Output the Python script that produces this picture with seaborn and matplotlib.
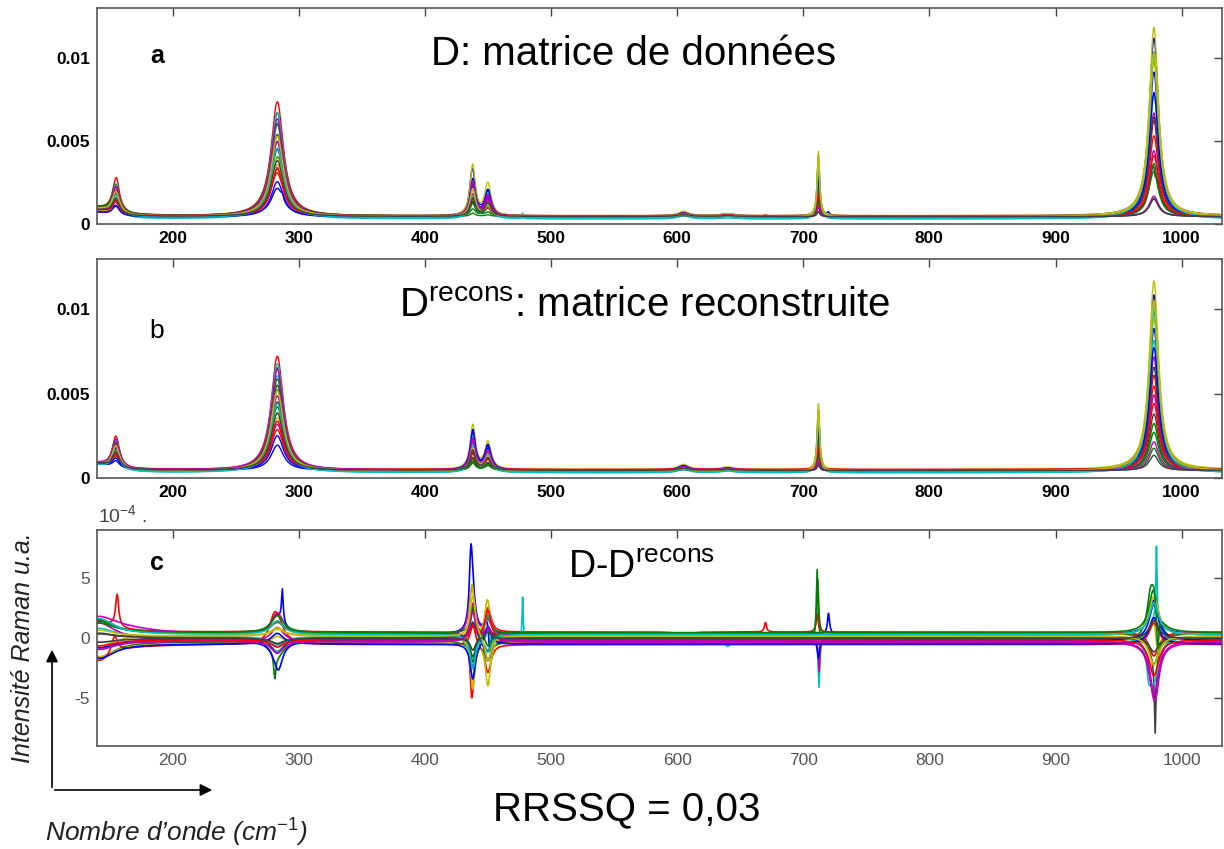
import numpy as np
import pandas as pd
import matplotlib
matplotlib.use('Agg')
import matplotlib.pyplot as plt
import seaborn as sns

# axe des nombres d'onde (cm-1)
wavenumber = np.arange(140, 1032.5, 0.5)

# bandes Raman des spectres purs : centre, demi-largeur, hauteur, composante
band_centre = [155, 283, 438, 450, 605, 640, 712, 978]
band_hwhm = [3.5, 6.0, 2.5, 3.0, 5.0, 6.0, 1.2, 4.5]
band_height = [0.0019, 0.0068, 0.0026, 0.0016, 0.0003, 0.00015, 0.0039, 0.0112]
band_comp = [0, 0, 2, 2, 2, 2, 1, 1]

# concentrations relatives des 21 spectres
conc_1 = [0.22, 0.55, 1.0, 0.85, 0.4, 0.45, 0.6, 0.7, 0.9, 0.35, 0.95,
          0.65, 0.5, 0.75, 0.3, 0.8, 0.42, 0.6, 0.88, 0.7, 0.5]
conc_2 = [0.93, 0.2, 0.45, 0.88, 0.6, 1.0, 0.3, 0.75, 0.12, 0.5, 0.7,
          0.4, 0.8, 0.55, 0.65, 0.25, 0.35, 0.85, 0.15, 0.9, 0.08]
conc_3 = [0.85, 0.15, 0.6, 0.7, 0.5, 1.0, 0.4, 0.75, 0.25, 0.45, 0.8,
          0.65, 0.55, 0.3, 0.9, 0.2, 0.35, 0.6, 0.7, 0.5, 0.45]

# ligne de base de chaque spectre (x1e-4) et remontée vers 140 cm-1
baseline_level = [4.5, 4.8, 4.2, 3.0, 4.6, 5.0, 4.4, 4.7, 4.3, 4.9, 3.2,
                  4.5, 4.8, 4.1, 4.6, 4.4, 5.1, 3.4, 4.7, 4.3, 4.5]
edge_height = 0.0004
edge_hwhm = 12

# résidus (x1e-4) : décalage de bruit de chaque spectre
resid_offset = [0.35, -0.3, 0.5, -0.1, 0.2, -0.45, 0.0, -0.2, 0.4, -0.55, 0.1,
                -0.35, 0.25, 0.05, -0.5, 0.45, -0.15, 0.3, -0.25, 0.15, -0.05]

# résidus (x1e-4) de chaque spectre sur les bandes principales
resid_band_centre = [142, 283, 438, 450, 978]
resid_band_hwhm = [14, 6, 2.5, 3, 4.5]
resid_edge = [1.2, -1.3, 0.9, -0.8, 0.6, -1.1, 0.4, -0.6, 1.0, -1.4, 0.7,
              1.1, -0.9, 0.3, -1.2, 0.8, -0.5, 1.3, -0.7, 0.5, -0.3]
resid_283 = [1.5, -1.2, 0.8, -1.0, 1.8, 0.6, -0.5, -1.5, 1.0, 2.0, -0.8,
             1.2, 0.5, -1.3, 0.9, 1.4, -0.6, 1.1, -1.0, 0.7, -0.4]
resid_438 = [2.5, -2.0, -3.0, 1.5, 3.0, 2.0, -1.5, 2.8, -2.5, 1.8, -2.2,
             3.2, -1.8, 1.2, -3.0, 2.2, 1.0, -2.8, 2.4, 3.5, -1.0]
resid_450 = [1.8, -1.5, 2.2, -2.0, 1.2, 2.6, -1.0, -1.8, 1.5, -2.4, 2.0,
             1.0, -2.6, 0.8, 1.6, -1.2, 2.4, -1.4, 1.1, -2.2, 0.6]
resid_978 = [2.8, 3.5, -2.0, 1.5, -3.8, 2.5, -1.5, 3.0, -2.6, 1.8, -3.5,
             -4.2, 3.2, -1.2, 2.2, 4.0, -3.0, 2.6, -4.5, -2.4, 1.5]

resid_spec = [4, 11, 2, 9,
              0, 1, 9, 7,
              0, 5, 4, 2, 12, 10,
              3, 0, 5, 12,
              3, 2, 0, 3, 1, 2,
              1, 8, 2, 3, 4, 0, 7,
              3, 1, 6, 15, 4, 11, 5, 10]
resid_centre = [140, 140, 156, 154,
                287, 281, 280, 284,
                436.5, 437, 436, 437, 438, 437.5,
                450, 451.5, 449, 450,
                477.5, 605, 603, 640, 641, 670,
                711, 711.5, 711, 712.5, 712.5, 720, 712,
                980, 975, 979, 981, 979, 980, 981, 974]
resid_hwhm = [40, 30, 1.5, 3,
              0.8, 1.0, 4, 3,
              1.5, 2, 2.5, 1.5, 2, 2.5,
              2, 1.5, 2, 2,
              0.5, 3, 3, 3, 3, 1,
              0.8, 0.8, 1, 0.7, 0.8, 1, 1,
              0.6, 3, 0.8, 1.2, 3, 2.5, 2, 2]
resid_amp = [1.0, 0.5, 2.7, 1.5,
             2.7, -2.0, 1.0, -1.0,
             5.6, 3.0, 1.5, -3.0, -2.5, -1.5,
             3.0, -3.0, 1.0, -1.5,
             3.5, -0.7, -0.4, -0.6, 0.5, 0.8,
             6.0, 4.5, 1.5, -4.0, -3.0, 1.7, -1.5,
             6.5, 2.0, -6.5, -4.0, -1.5, -1.0, -2.5, -2.0]

# couleurs par défaut de MATLAB
matlab_colors = ['#0000ff', '#008000', '#ff0000', '#00bfbf', '#bf00bf', '#bfbf00', '#404040']


def lorentz(x, c, w):
    return w ** 2 / ((x - c) ** 2 + w ** 2)


# D = C S^T + E
n_spec = len(conc_1)
conc = np.array([conc_1, conc_2, conc_3]).T
pure = np.zeros((3, len(wavenumber)))
for c, w, h, k in zip(band_centre, band_hwhm, band_height, band_comp):
    pure[k] += h * lorentz(wavenumber, c, w)
recons = conc @ pure
recons += np.array(baseline_level)[:, None] * 1e-4 + edge_height * lorentz(wavenumber, 140, edge_hwhm)

resid = np.zeros((n_spec, len(wavenumber))) + np.array(resid_offset)[:, None]
band_amps = np.array([resid_edge, resid_283, resid_438, resid_450, resid_978])
for c, w, amps in zip(resid_band_centre, resid_band_hwhm, band_amps):
    resid += amps[:, None] * lorentz(wavenumber, c, w)[None, :]
for s, c, w, a in zip(resid_spec, resid_centre, resid_hwhm, resid_amp):
    resid[s] += a * lorentz(wavenumber, c, w)
data = recons + resid * 1e-4


def to_long(mat):
    return pd.DataFrame({
        'wavenumber': np.tile(wavenumber, n_spec),
        'intensite': mat.ravel(),
        'spectre': np.repeat(np.arange(n_spec), len(wavenumber)),
    })


sns.set_style('white')
plt.rcParams['font.family'] = ['Liberation Sans', 'DejaVu Sans']
plt.rcParams['text.color'] = 'black'
plt.rcParams['mathtext.fontset'] = 'custom'
plt.rcParams['mathtext.rm'] = 'Liberation Sans'
plt.rcParams['mathtext.it'] = 'Liberation Sans:italic'
plt.rcParams['mathtext.bf'] = 'Liberation Sans:bold'

palette = [matlab_colors[i % 7] for i in range(n_spec)]

fig = plt.figure(figsize=(12.24, 8.49), dpi=100)
ax_a = fig.add_axes([0.0792, 0.7362, 0.9192, 0.2544])
ax_b = fig.add_axes([0.0792, 0.437, 0.9192, 0.258])
ax_c = fig.add_axes([0.0792, 0.1213, 0.9192, 0.2544])

for ax, mat, lw in [(ax_a, data, 1.0), (ax_b, recons, 1.0), (ax_c, resid, 1.2)]:
    sns.lineplot(data=to_long(mat), x='wavenumber', y='intensite', hue='spectre',
                 palette=palette, legend=False, estimator=None, sort=False,
                 linewidth=lw, ax=ax)
    ax.set_xlim(140, 1032)
    ax.set_xticks(range(200, 1001, 100))
    ax.set_xlabel('')
    ax.set_ylabel('')
    ax.tick_params(direction='in', top=True, right=True, length=6, width=1,
                   color='#444444', labelsize=12.5, pad=5)
    for sp in ax.spines.values():
        sp.set_color('#555555')
        sp.set_linewidth(1.2)

for ax in [ax_a, ax_b]:
    ax.set_ylim(0, 0.013)
    ax.set_yticks([0, 0.005, 0.01])
    ax.set_yticklabels(['0', '0.005', '0.01'])
    ax.tick_params(labelcolor='black')
    for lbl in ax.get_xticklabels() + ax.get_yticklabels():
        lbl.set_fontweight('bold')

ax_c.set_ylim(-9, 9)
ax_c.set_yticks([-5, 0, 5])
ax_c.set_yticklabels(['-5', '0', '5'])
ax_c.tick_params(labelcolor='#555555')

# titres des panneaux
ax_a.text(0.047, 0.745, 'a', transform=ax_a.transAxes, fontsize=18, fontweight='bold')
ax_a.text(0.477, 0.736, 'D: matrice de données', transform=ax_a.transAxes,
          fontsize=29, ha='center')
ax_b.text(0.047, 0.639, 'b', transform=ax_b.transAxes, fontsize=19)
ax_b.text(0.487, 0.735, r'D$^{\mathrm{recons}}$: matrice reconstruite', transform=ax_b.transAxes,
          fontsize=29, ha='center')
ax_c.text(0.047, 0.815, 'c', transform=ax_c.transAxes, fontsize=18, fontweight='bold')
ax_c.text(0.419, 0.778, r'D-D$^{\mathrm{recons}}$', transform=ax_c.transAxes, fontsize=27)

fig.text(0.080, 0.393, r'10$^{-4}$ .', fontsize=14, color='#444444', va='center')
fig.text(0.512, 0.034, 'RRSSQ = 0,03', fontsize=29, ha='center')

# axes fléchés en bas à gauche
fig.text(0.019, 0.237, 'Intensité Raman u.a.', rotation=90, fontsize=18, style='italic',
         ha='center', va='center', color='#222222')
fig.text(0.037, 0.019, r'Nombre d’onde (cm$^{\mathit{-1}}$)', fontsize=19, style='italic',
         va='center', color='#222222')
ax_c.annotate('', xy=(0.0425, 0.238), xytext=(0.0425, 0.0695), xycoords='figure fraction',
              textcoords='figure fraction', annotation_clip=False,
              arrowprops=dict(arrowstyle='-|>', color='black', lw=1.2, mutation_scale=18))
ax_c.annotate('', xy=(0.1757, 0.0695), xytext=(0.0425, 0.0695), xycoords='figure fraction',
              textcoords='figure fraction', annotation_clip=False,
              arrowprops=dict(arrowstyle='-|>', color='black', lw=1.2, mutation_scale=18))

fig.savefig('out.png', dpi=100)
